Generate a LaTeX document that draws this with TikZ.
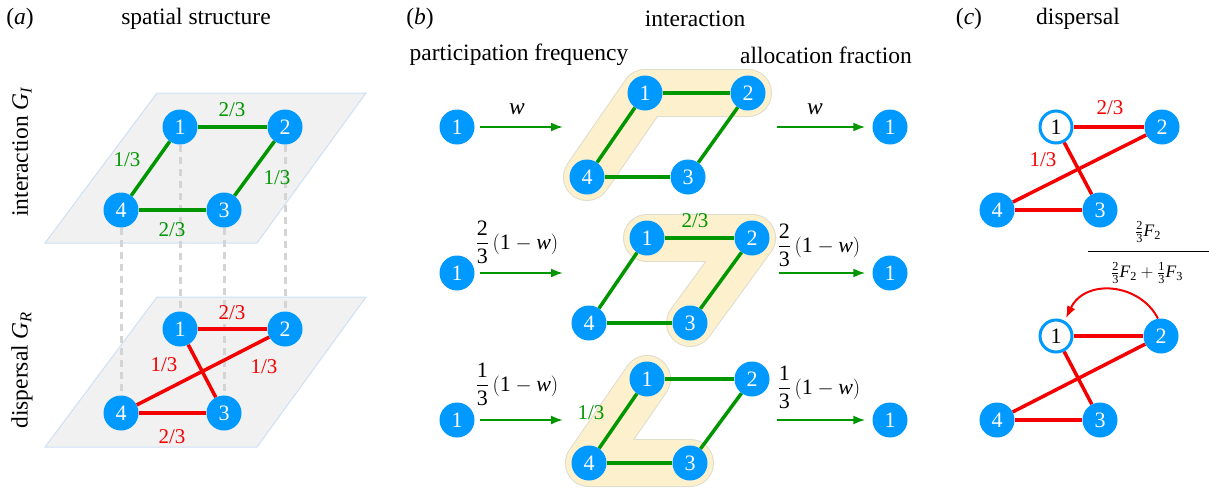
\documentclass[tikz,border=0pt]{standalone}
\usepackage{amsmath}
\usepackage{fontspec}
\setmainfont{Liberation Serif}
\usetikzlibrary{arrows.meta}
\definecolor{nblue}{RGB}{0,153,255}
\definecolor{egreen}{RGB}{0,150,0}
\definecolor{ered}{RGB}{245,0,0}
\definecolor{hl}{RGB}{253,240,205}
\definecolor{hlb}{RGB}{222,220,205}
\definecolor{planefill}{RGB}{241,241,241}
\definecolor{planeb}{RGB}{205,225,245}
\pgfdeclarelayer{bgzero}
\pgfdeclarelayer{bgone}
\pgfsetlayers{bgzero,bgone,main}
\begin{document}
\begin{tikzpicture}[x=1pt,y=-1pt,
  nd/.style={circle,fill=nblue,minimum size=35pt,inner sep=0pt,text=white,font=\fontsize{22}{22}\selectfont},
  ndo/.style={circle,draw=nblue,line width=3pt,fill=white,minimum size=32pt,inner sep=0pt,text=black,font=\fontsize{22}{22}\selectfont},
  ge/.style={draw=egreen,line width=3.5pt},
  re/.style={draw=ered,line width=3.5pt},
  gl/.style={text=egreen,font=\fontsize{21}{21}\selectfont,inner sep=0pt},
  rl/.style={text=ered,font=\fontsize{21}{21}\selectfont,inner sep=0pt},
  vdsh/.style={draw=black!17,line width=3pt,dash pattern=on 7pt off 5pt},
  pl/.style={fill=planefill,draw=planeb,line width=1pt},
  garr/.style={draw=egreen,line width=2pt,-{Latex[length=12pt,width=9pt]}},
  rarr/.style={draw=ered,line width=2pt,-{Latex[length=12pt,width=9pt]}},
  hlo/.style={draw=hlb,line width=48pt,line cap=round,line join=round},
  hli/.style={draw=hl,line width=46pt,line cap=round,line join=round},
  ttl/.style={font=\fontsize{23.5}{26}\selectfont,inner sep=0pt},
  flab/.style={font=\fontsize{22}{24}\selectfont,inner sep=0pt},
  fcl/.style={font=\fontsize{17.5}{18}\selectfont,inner sep=0pt},
]
\useasboundingbox (0,0) rectangle (1209,490);

% ---------- titles ----------
\node[ttl] (ta) at (20,19) {(\textit{a})};
\node[ttl] (tsa) at (196,19) {spatial structure};
\node[ttl] (tb) at (420,19) {(\textit{b})};
\node[ttl] (tsb) at (695,19) {interaction};
\node[ttl] (tpf) at (519,55) {participation frequency};
\node[ttl] (taf) at (826,55) {allocation fraction};
\node[ttl] (tc) at (969,19) {(\textit{c})};
\node[ttl] (tsc) at (1078,19) {dispersal};
\node[ttl,rotate=90] (tgi) at (22,152) {interaction \textit{G}$_{\text{\itshape I}}$};
\node[ttl,rotate=90] (tgr) at (22,370) {dispersal \textit{G}$_{\text{\itshape R}}$};

% ---------- panel (a) ----------
\begin{pgfonlayer}{bgzero}
\path[pl] (157,93) -- (366,93) -- (257,243) -- (45,243) -- cycle;
\path[pl] (157,297) -- (366,297) -- (257,447) -- (45,447) -- cycle;
\end{pgfonlayer}
\node[nd] (a1) at (180,127) {1};
\node[nd] (a2) at (285,127) {2};
\node[nd] (a3) at (224,210) {3};
\node[nd] (a4) at (121,210) {4};
\node[nd] (d1) at (180,329) {1};
\node[nd] (d2) at (285,329) {2};
\node[nd] (d3) at (224,413) {3};
\node[nd] (d4) at (121,413) {4};
\begin{pgfonlayer}{bgone}
\draw[vdsh] (a1) -- (d1);
\draw[vdsh] (a2) -- (d2);
\draw[vdsh] (a3) -- (d3);
\draw[vdsh] (a4) -- (d4);
\draw[ge] (a1) -- (a2);
\draw[ge] (a2) -- (a3);
\draw[ge] (a3) -- (a4);
\draw[ge] (a4) -- (a1);
\draw[re] (d1) -- (d2);
\draw[re] (d1) -- (d3);
\draw[re] (d2) -- (d4);
\draw[re] (d4) -- (d3);
\end{pgfonlayer}
\node[gl] (la12) at (232,110) {2/3};
\node[gl] (la14) at (127,160) {1/3};
\node[gl] (la23) at (277,178) {1/3};
\node[gl] (la34) at (172,230) {2/3};
\node[rl] (ld12) at (232,313) {2/3};
\node[rl] (ld13) at (164,365) {1/3};
\node[rl] (ld24) at (264,367) {1/3};
\node[rl] (ld34) at (172,437) {2/3};

% ---------- panel (b) ----------
% row 1
\node[nd] (bL1) at (457,127) {1};
\node[nd] (bR1) at (890,127) {1};
\node[nd] (p1) at (645,93) {1};
\node[nd] (p2) at (748,93) {2};
\node[nd] (p3) at (688,177) {3};
\node[nd] (p4) at (587,177) {4};
% row 2
\node[nd] (bL2) at (457,273) {1};
\node[nd] (bR2) at (890,273) {1};
\node[nd] (q1) at (647,238) {1};
\node[nd] (q2) at (752,238) {2};
\node[nd] (q3) at (690,323) {3};
\node[nd] (q4) at (589,323) {4};
% row 3
\node[nd] (bL3) at (457,420) {1};
\node[nd] (bR3) at (890,420) {1};
\node[nd] (s1) at (647,379) {1};
\node[nd] (s2) at (752,379) {2};
\node[nd] (s3) at (690,463) {3};
\node[nd] (s4) at (589,463) {4};

\begin{pgfonlayer}{bgzero}
\draw[hlo] (p2.center) -- (p1.center) -- (p4.center);
\draw[hli] (p2.center) -- (p1.center) -- (p4.center);
\draw[hlo] (q1.center) -- (q2.center) -- (q3.center);
\draw[hli] (q1.center) -- (q2.center) -- (q3.center);
\draw[hlo] (s1.center) -- (s4.center) -- (s3.center);
\draw[hli] (s1.center) -- (s4.center) -- (s3.center);
\end{pgfonlayer}
\begin{pgfonlayer}{bgone}
\draw[ge] (p1) -- (p2);
\draw[ge] (p2) -- (p3);
\draw[ge] (p3) -- (p4);
\draw[ge] (p4) -- (p1);
\draw[ge] (q1) -- (q2);
\draw[ge] (q2) -- (q3);
\draw[ge] (q3) -- (q4);
\draw[ge] (q4) -- (q1);
\draw[ge] (s1) -- (s2);
\draw[ge] (s2) -- (s3);
\draw[ge] (s3) -- (s4);
\draw[ge] (s4) -- (s1);
\end{pgfonlayer}
\node[gl] (lq12) at (695,221) {2/3};
\node[gl] (ls14) at (591,413) {1/3};

\coordinate (e1a) at (563,127);
\coordinate (e1b) at (777,127);
\coordinate (e2a) at (563,273);
\coordinate (e2b) at (779,273);
\coordinate (e3a) at (563,420);
\coordinate (e3b) at (777,420);
\draw[garr,shorten <=5pt] (bL1.east) -- (e1a);
\draw[garr,shorten >=7pt] (e1b) -- (bR1.west);
\draw[garr,shorten <=5pt] (bL2.east) -- (e2a);
\draw[garr,shorten >=7pt] (e2b) -- (bR2.west);
\draw[garr,shorten <=5pt] (bL3.east) -- (e3a);
\draw[garr,shorten >=7pt] (e3b) -- (bR3.west);

\node[ttl] (w1) at (517,109) {\textit{w}};
\node[ttl] (w2) at (815,109) {\textit{w}};
\node[flab] (f2l) at (517,242) {$\dfrac{\text{2}}{\text{3}}\,(\text{1}-\text{\itshape w})$};
\node[flab] (f2r) at (819,245) {$\dfrac{\text{2}}{\text{3}}\,(\text{1}-\text{\itshape w})$};
\node[flab] (f3l) at (517,384) {$\dfrac{\text{1}}{\text{3}}\,(\text{1}-\text{\itshape w})$};
\node[flab] (f3r) at (819,387) {$\dfrac{\text{1}}{\text{3}}\,(\text{1}-\text{\itshape w})$};

% ---------- panel (c) ----------
\node[ndo] (c1) at (1056,127) {1};
\node[nd] (c2) at (1162,127) {2};
\node[nd] (c3) at (1100,210) {3};
\node[nd] (c4) at (997,210) {4};
\node[ndo] (k1) at (1056,336) {1};
\node[nd] (k2) at (1161,336) {2};
\node[nd] (k3) at (1100,420) {3};
\node[nd] (k4) at (997,420) {4};
\begin{pgfonlayer}{bgone}
\draw[re] (c1) -- (c2);
\draw[re] (c1) -- (c3);
\draw[re] (c2) -- (c4);
\draw[re] (c4) -- (c3);
\draw[re] (k1) -- (k2);
\draw[re] (k1) -- (k3);
\draw[re] (k2) -- (k4);
\draw[re] (k4) -- (k3);
\end{pgfonlayer}
\node[rl] (lc12) at (1110,108) {2/3};
\node[rl] (lc13) at (1043,160) {1/3};
\draw[rarr,shorten >=3pt] (k2.100) .. controls (1140,283) and (1085,278) .. (k1.60);

\node[fcl] (num) at (1148,232) {$\tfrac{\text{2}}{\text{3}}\text{\itshape F}_{\text{2}}$};
\draw[line width=1pt] (1088,251) -- (1209,251);
\node[fcl] (den) at (1147,273) {$\tfrac{\text{2}}{\text{3}}\text{\itshape F}_{\text{2}}+\tfrac{\text{1}}{\text{3}}\text{\itshape F}_{\text{3}}$};
\end{tikzpicture}
\end{document}
